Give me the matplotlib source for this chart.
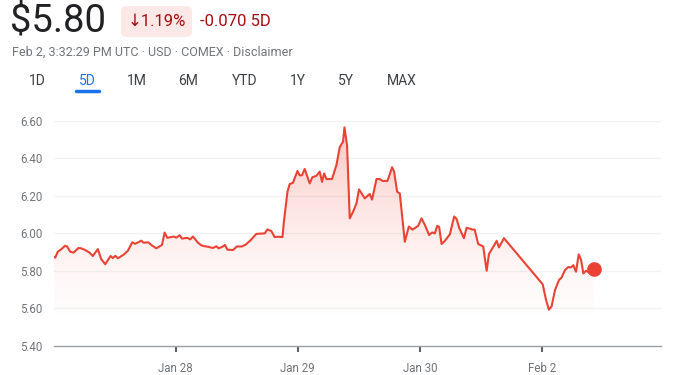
import matplotlib
matplotlib.use("Agg")
import matplotlib.pyplot as plt
import numpy as np
from matplotlib.patches import FancyBboxPatch

plt.rcParams['font.family'] = ['Roboto', 'DejaVu Sans']

# trading-day index: 0 = Jan 27 open, 1 = Jan 28, 2 = Jan 29, 3 = Jan 30, 4 = Feb 2
t = [0.000, 0.014, 0.035, 0.063, 0.096, 0.112, 0.137, 0.164, 0.205, 0.227,
     0.262, 0.295, 0.322, 0.363, 0.391, 0.424, 0.467, 0.486, 0.506, 0.527,
     0.574, 0.609, 0.645, 0.670, 0.719, 0.738, 0.776, 0.809, 0.842, 0.888,
     0.910, 0.932, 0.984, 1.006, 1.033, 1.052, 1.096, 1.120, 1.142, 1.183,
     1.211, 1.232, 1.260, 1.306, 1.334, 1.352, 1.388, 1.404, 1.424, 1.470,
     1.502, 1.543, 1.574, 1.607, 1.661, 1.730, 1.752, 1.784, 1.811, 1.839,
     1.875, 1.888, 1.916, 1.934, 1.961, 1.998, 2.016, 2.035, 2.057, 2.098,
     2.120, 2.153, 2.180, 2.199, 2.216, 2.235, 2.281, 2.317, 2.344, 2.371,
     2.383, 2.404, 2.426, 2.453, 2.481, 2.502, 2.549, 2.590, 2.609, 2.645,
     2.672, 2.694, 2.735, 2.773, 2.789, 2.814, 2.836, 2.877, 2.910, 2.940,
     2.986, 3.014, 3.041, 3.076, 3.101, 3.123, 3.142, 3.158, 3.178, 3.205,
     3.246, 3.281, 3.301, 3.322, 3.361, 3.383, 3.432, 3.449, 3.478, 3.519,
     3.547, 3.566, 3.607, 3.629, 3.648, 3.689, 4.006, 4.033, 4.057, 4.079,
     4.107, 4.139, 4.161, 4.189, 4.216, 4.238, 4.257, 4.279, 4.301, 4.320,
     4.339, 4.361, 4.388, 4.426]
price = [5.875, 5.870, 5.902, 5.915, 5.934, 5.929, 5.902, 5.897, 5.922, 5.920,
         5.910, 5.897, 5.879, 5.916, 5.862, 5.835, 5.879, 5.868, 5.880, 5.867,
         5.886, 5.907, 5.952, 5.944, 5.961, 5.950, 5.952, 5.934, 5.920, 5.938,
         6.004, 5.976, 5.983, 5.977, 5.990, 5.972, 5.976, 5.968, 5.983, 5.950,
         5.936, 5.932, 5.929, 5.922, 5.931, 5.920, 5.930, 5.938, 5.913, 5.911,
         5.930, 5.930, 5.940, 5.959, 5.997, 6.000, 6.021, 6.012, 5.980, 5.982,
         5.980, 6.070, 6.222, 6.263, 6.270, 6.333, 6.310, 6.310, 6.344, 6.267,
         6.300, 6.307, 6.330, 6.275, 6.320, 6.290, 6.290, 6.365, 6.460, 6.490,
         6.566, 6.470, 6.080, 6.115, 6.160, 6.235, 6.187, 6.210, 6.180, 6.290,
         6.290, 6.280, 6.280, 6.353, 6.330, 6.222, 6.213, 5.955, 6.036, 6.020,
         6.040, 6.080, 6.045, 5.991, 6.005, 6.000, 6.040, 6.035, 5.943, 5.960,
         5.995, 6.090, 6.077, 6.030, 5.974, 6.030, 6.020, 6.020, 5.943, 5.930,
         5.800, 5.890, 5.934, 5.960, 5.925, 5.974, 5.728, 5.646, 5.592, 5.610,
         5.697, 5.750, 5.765, 5.804, 5.820, 5.818, 5.830, 5.795, 5.888, 5.860,
         5.786, 5.800, 5.790, 5.808]

tick_pos = [1, 2, 3, 4]
tick_labels = ["Jan 28", "Jan 29", "Jan 30", "Feb 2"]
y_ticks = [5.40, 5.60, 5.80, 6.00, 6.20, 6.40, 6.60]
tabs = ["1D", "5D", "1M", "6M", "YTD", "1Y", "5Y", "MAX"]
tab_x = [37, 87, 137, 188, 245, 298, 346, 402]

RED = "#ea4335"
W, H = 683, 375
fig = plt.figure(figsize=(W / 100, H / 100), dpi=100)
ax = fig.add_axes([53.5 / W, 1 - 345.7 / H, (661 - 53.5) / W, (345.7 - 121) / H])

ymin, ymax = 5.40, 6.60
fill_base = 5.575
xmax = 4.975
ax.set_xlim(0, xmax)
ax.set_ylim(ymin, ymax)

# gradient fill under the line
poly = ax.fill_between(t, price, fill_base, color="none", lw=0)
g = np.linspace(0, 1, 256)
rgba = np.zeros((256, 1, 4))
rgba[:, 0, 0] = 0.93
rgba[:, 0, 1] = 0.30
rgba[:, 0, 2] = 0.25
rgba[:, 0, 3] = 0.015 + (g ** 1.4) * 0.30
im = ax.imshow(rgba, extent=[0, xmax, fill_base, ymax], origin="lower",
               aspect="auto", zorder=1)
path = poly.get_paths()[0]
im.set_clip_path(path, transform=ax.transData)

ax.plot(t, price, color=RED, lw=1.5, zorder=3, solid_joinstyle="round")
ax.plot([t[-1]], [price[-1]], 'o', color=RED, ms=9.5, zorder=4)

for yv in y_ticks[1:]:
    ax.axhline(yv, color="#f1f3f4", lw=1, zorder=0)

for s in ["top", "right", "left"]:
    ax.spines[s].set_visible(False)
ax.spines["bottom"].set_color("#9aa0a6")
ax.spines["bottom"].set_linewidth(1)

ax.set_yticks(y_ticks)
ax.set_yticklabels([f"{v:.2f}" for v in y_ticks])
ax.tick_params(axis="y", length=0, pad=8, labelsize=8.3, labelcolor="#70757a")
ax.set_xticks(tick_pos)
ax.set_xticklabels(tick_labels)
ax.tick_params(axis="x", length=4.5, width=1.5, color="#5f6368", pad=7,
               labelsize=8.3, labelcolor="#70757a")

# header
fig.text(10 / W, 1 - 22 / H, "$5.80", fontsize=27.5, color="#202124",
         va="center", ha="left")
badge = FancyBboxPatch((121 / W, 1 - 37 / H), 71 / W, 31 / H,
                       boxstyle="round,pad=0,rounding_size=0.012",
                       transform=fig.transFigure, fc="#fce8e6", ec="none")
fig.patches.append(badge)
fig.text(156.5 / W, 1 - 21 / H, "↓1.19%", fontsize=12, color="#a50e0e",
         va="center", ha="center")
fig.text(200 / W, 1 - 21 / H, "-0.070 5D", fontsize=12, color="#a50e0e",
         va="center", ha="left")
fig.text(12 / W, 1 - 52 / H, "Feb 2, 3:32:29 PM UTC · USD · COMEX · Disclaimer",
         fontsize=9, color="#70757a", va="center", ha="left")

for lab, x in zip(tabs, tab_x):
    c = "#1a73e8" if lab == "5D" else "#3c4043"
    fig.text(x / W, 1 - 81 / H, lab, fontsize=10, color=c,
             va="center", ha="center")
fig.add_artist(plt.Line2D([76 / W, 99 / W], [1 - 91 / H, 1 - 91 / H],
                          color="#1a73e8", lw=2.5, solid_capstyle="round"))

fig.savefig("out.png", dpi=100)
